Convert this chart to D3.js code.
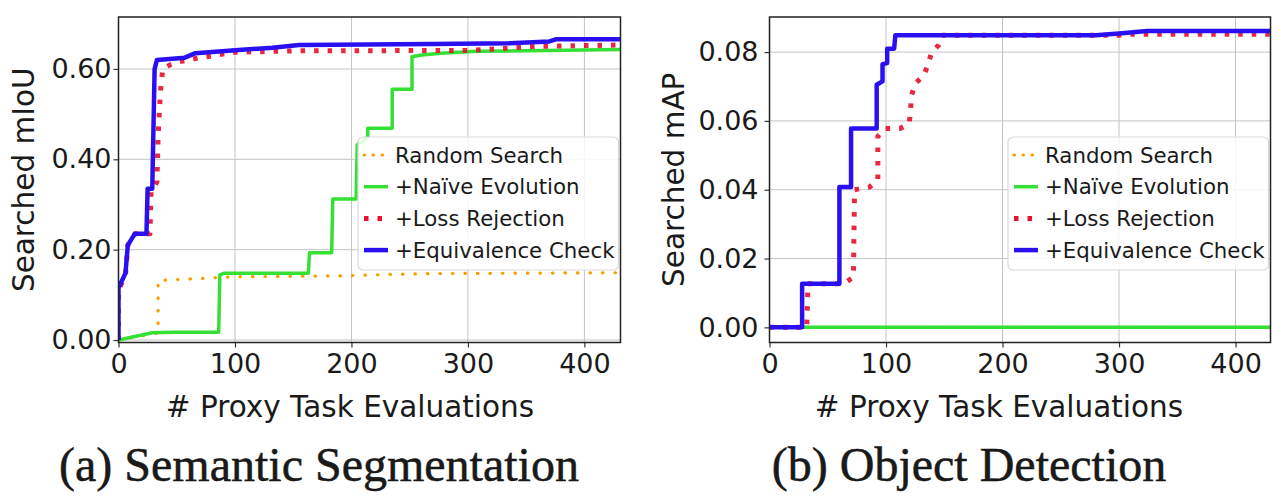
<!DOCTYPE html>
<html><head><meta charset="utf-8">
<script src="https://cdn.jsdelivr.net/npm/d3@7"></script>
<style>
body{margin:0;background:#ffffff;}
text{font-family:"DejaVu Sans",sans-serif;fill:#1a1a1a;}
</style>
</head><body>
<svg id="chart" width="1282" height="496"></svg>
<script>
// ---------- data ----------
const xTicks = [0, 100, 200, 300, 400];
const segYTicks = [0, 0.2, 0.4, 0.6];
const detYTicks = [0, 0.02, 0.04, 0.06, 0.08];
const seriesNames = ["Random Search", "+Naïve Evolution", "+Loss Rejection", "+Equivalence Check"];

// (a) Semantic Segmentation: [evaluations, mIoU]
const segRandom = [[0,0],[33,0.015],[34,0.015],[34,0.132],[60,0.135],[100,0.14],[190,0.142],[230,0.145],[270,0.147],[431,0.149]];
const segNaive = [[0,0],[29,0.016],[48,0.017],[86,0.017],[87,0.144],[91,0.148],[163,0.148],[164,0.193],[183,0.193],[184,0.312],[204,0.312],[205,0.432],[210,0.44],[214,0.45],[214,0.469],[235,0.469],[235,0.555],[252,0.555],[252,0.627],[260,0.631],[277,0.635],[307,0.639],[431,0.643]];
const segLoss = [[0,0],[0,0.11],[6,0.145],[8,0.21],[14,0.235],[27,0.235],[28,0.33],[33,0.35],[34,0.45],[36,0.55],[38,0.60],[45,0.61],[50,0.615],[70,0.625],[100,0.637],[150,0.64],[300,0.641],[360,0.65],[431,0.653]];
const segEquiv = [[0,0],[0,0.115],[6,0.148],[8,0.21],[14,0.235],[24,0.235],[25,0.335],[29,0.335],[31,0.60],[33,0.62],[57,0.625],[66,0.635],[103,0.642],[132,0.647],[155,0.653],[270,0.655],[336,0.657],[370,0.661],[376,0.666],[431,0.666]];

// (b) Object Detection: [evaluations, mAP]
const detRandom = [[0,0],[430,0]];
const detNaive = [[0,0],[430,0]];
const detLoss = [[0,0],[32,0],[33,0.0127],[64,0.0127],[72,0.0146],[73,0.040],[86,0.0408],[93,0.0428],[93,0.0555],[99,0.0578],[112,0.0578],[120,0.0593],[121,0.0631],[122,0.0675],[125,0.0709],[132,0.073],[136,0.0762],[139,0.0798],[145,0.082],[148,0.0849],[300,0.0849],[310,0.0852],[430,0.0852]];
const detEquiv = [[0,0],[28,0],[28,0.0127],[60,0.0127],[60,0.0408],[70,0.0408],[70,0.0578],[92,0.0578],[92,0.0705],[97,0.0715],[97,0.0765],[101,0.0768],[101,0.081],[107,0.081],[108,0.0849],[280,0.0849],[300,0.0854],[324,0.0861],[430,0.0861]];

// ---------- styles ----------
const styles = [
  {color:"#f5a000", width:3.2, dash:"0.5,12", legendDash:"0.5,8.5", cap:"round"},
  {color:"#33e033", width:3.5, dash:null, legendDash:null, cap:"butt"},
  {color:"#e8102e", width:5, dash:"4.5,9", legendDash:"4.5,9", cap:"butt"},
  {color:"#2a10f0", width:4.5, dash:null, legendDash:null, cap:"butt"}
];

const svg = d3.select("#chart");

function panel(cfg) {
  const g = svg.append("g");
  const x = d3.scaleLinear().domain(cfg.xDomain).range([cfg.left, cfg.right]);
  const y = d3.scaleLinear().domain(cfg.yDomain).range([cfg.bottom, cfg.top]);

  // grid
  g.append("g").selectAll("line").data(xTicks).join("line")
    .attr("x1", d => x(d)).attr("x2", d => x(d))
    .attr("y1", cfg.top).attr("y2", cfg.bottom)
    .attr("stroke", "#c4c4c4").attr("stroke-width", 1);
  g.append("g").selectAll("line").data(cfg.yTicks).join("line")
    .attr("x1", cfg.left).attr("x2", cfg.right)
    .attr("y1", d => y(d)).attr("y2", d => y(d))
    .attr("stroke", "#c4c4c4").attr("stroke-width", 1);

  const clipId = "clip" + cfg.id;
  svg.append("defs").append("clipPath").attr("id", clipId)
    .append("rect").attr("x", cfg.left).attr("y", cfg.top)
    .attr("width", cfg.right - cfg.left).attr("height", cfg.bottom - cfg.top);

  const line = d3.line().x(d => x(d[0])).y(d => y(d[1]));
  const lg = g.append("g").attr("clip-path", `url(#${clipId})`);
  cfg.series.forEach((s, i) => {
    const st = styles[i];
    lg.append("path").datum(s).attr("d", line)
      .attr("fill", "none").attr("stroke", st.color)
      .attr("stroke-width", st.width)
      .attr("stroke-dasharray", st.dash)
      .attr("stroke-linecap", st.cap)
      .attr("stroke-linejoin", "round")
      .attr("opacity", i === 2 ? 0.9 : 1);
  });

  // axes
  const xAxis = d3.axisBottom(x).tickValues(xTicks).tickSize(5).tickPadding(5).tickFormat(d3.format("d"));
  const xg = g.append("g").attr("transform", `translate(0,${cfg.bottom})`).call(xAxis);
  xg.select(".domain").remove();
  xg.selectAll("line").attr("stroke", "#333").attr("stroke-width", 1.2);
  xg.selectAll("text").attr("font-size", 27).attr("fill", "#1a1a1a")
    .attr("font-family", "DejaVu Sans").attr("dy", "0.76em");

  const yAxis = d3.axisLeft(y).tickValues(cfg.yTicks).tickSize(5).tickPadding(cfg.yPad).tickFormat(d3.format(".2f"));
  const yg = g.append("g").attr("transform", `translate(${cfg.left},0)`).call(yAxis);
  yg.select(".domain").remove();
  yg.selectAll("line").attr("stroke", "#333").attr("stroke-width", 1.2);
  yg.selectAll("text").attr("font-size", 27).attr("fill", "#1a1a1a")
    .attr("font-family", "DejaVu Sans");

  // frame
  g.append("rect").attr("x", cfg.left).attr("y", cfg.top)
    .attr("width", cfg.right - cfg.left).attr("height", cfg.bottom - cfg.top)
    .attr("fill", "none").attr("stroke", "#222").attr("stroke-width", 1.5);

  // labels
  g.append("text").attr("x", cfg.xLabelX).attr("y", 417)
    .attr("text-anchor", "middle").attr("font-size", 29.5).text("# Proxy Task Evaluations");
  g.append("text").attr("transform", `translate(${cfg.yLabelX},${(cfg.top + cfg.bottom) / 2}) rotate(-90)`)
    .attr("text-anchor", "middle").attr("font-size", 29.5).text(cfg.yLabel);

  // legend
  const L = cfg.legend;
  g.append("rect").attr("x", L.x).attr("y", 137).attr("width", cfg.right - 2 - L.x).attr("height", 133)
    .attr("rx", 5).attr("fill", "#ffffff").attr("fill-opacity", 0.85)
    .attr("stroke", "#d9d9d9").attr("stroke-width", 1.2);
  seriesNames.forEach((name, i) => {
    const st = styles[i];
    const cy = 155 + i * 31.7;
    g.append("line").attr("x1", L.x + 6).attr("x2", L.x + 30).attr("y1", cy).attr("y2", cy)
      .attr("stroke", st.color).attr("stroke-width", st.width)
      .attr("stroke-dasharray", st.legendDash).attr("stroke-linecap", st.cap);
    g.append("text").attr("x", L.x + 37).attr("y", cy + 7.5)
      .attr("font-size", 21.3).text(name);
  });

  // caption
  svg.append("text").attr("x", cfg.captionX).attr("y", 481)
    .attr("text-anchor", "middle").attr("font-size", 48)
    .style("font-family", "'Liberation Serif','Times New Roman',serif")
    .attr("fill", "#111").attr("stroke", "#111").attr("stroke-width", 0.5)
    .text(cfg.caption);
}

panel({
  id: "a", left: 118.5, right: 620.5, top: 17, bottom: 342.5,
  xDomain: [0, 431], yDomain: [-0.0055, 0.715], yTicks: segYTicks, yPad: 2,
  series: [segRandom, segNaive, segLoss, segEquiv],
  xLabelX: 350, yLabelX: 34, yLabel: "Searched mIoU",
  legend: {x: 358}, caption: "(a) Semantic Segmentation", captionX: 319
});
panel({
  id: "b", left: 769.5, right: 1270.5, top: 17, bottom: 342.5,
  xDomain: [0, 430], yDomain: [-0.0044, 0.0902], yTicks: detYTicks, yPad: 6,
  series: [detRandom, detNaive, detLoss, detEquiv],
  xLabelX: 999, yLabelX: 684, yLabel: "Searched mAP",
  legend: {x: 1008}, caption: "(b) Object Detection", captionX: 969
});
</script>
</body></html>
